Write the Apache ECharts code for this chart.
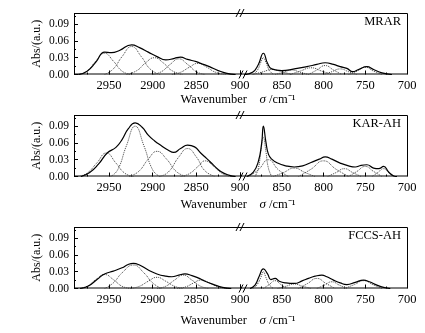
<!DOCTYPE html>
<html>
<head>
<meta charset="utf-8">
<script src="https://cdn.jsdelivr.net/npm/echarts@6/dist/echarts.min.js"></script>
<style>
html, body { margin: 0; padding: 0; background: #fff; }
#chart1 { width: 425px; height: 333px; }
</style>
</head>
<body>
<div id="chart1"></div>
<script>
// 样品名称
var sampleNames = ['MRAR', 'KAR-AH', 'FCCS-AH'];
// 刻度
var xLeftTicks = [2950, 2900, 2850];
var xRightTicks = [900, 850, 800, 750, 700];
var yTicks = [0.00, 0.03, 0.06, 0.09];

// ---- MRAR ----
var mrarLeftTotal = [[2985,0],[2975,0.006],[2965,0.022],[2955,0.040],[2947,0.039],[2938,0.043],[2924,0.053],[2915,0.048],[2905,0.040],[2895,0.032],[2885,0.026],[2875,0.029],[2868,0.031],[2860,0.027],[2850,0.023],[2845,0.020],[2835,0.014],[2825,0.007],[2815,0.002],[2805,0]];
var mrarLeftBands = [
    [[2985,0],[2975,0.006],[2965,0.024],[2955,0.038],[2945,0.024],[2935,0.006],[2925,0]],
    [[2955,0],[2945,0.010],[2935,0.032],[2924,0.050],[2913,0.032],[2903,0.010],[2892,0]],
    [[2930,0],[2918,0.007],[2908,0.021],[2898,0.030],[2888,0.021],[2878,0.007],[2866,0]],
    [[2900,0],[2890,0.005],[2880,0.018],[2870,0.028],[2860,0.018],[2850,0.005],[2840,0]],
    [[2878,0],[2868,0.004],[2858,0.013],[2848,0.020],[2838,0.013],[2828,0.004],[2815,0]]
];
var mrarRightTotal = [[895,0],[885,0.004],[878,0.018],[872,0.038],[867,0.020],[862,0.010],[850,0.007],[835,0.010],[820,0.014],[808,0.018],[798,0.021],[788,0.018],[780,0.014],[772,0.011],[765,0.005],[758,0.009],[748,0.014],[740,0.009],[730,0.003],[718,0]];
var mrarRightBands = [
    [[884,0],[879,0.008],[875,0.022],[872,0.030],[869,0.022],[865,0.008],[860,0]],
    [[885,0],[872,0.005],[862,0.009],[850,0.005],[838,0]],
    [[858,0],[848,0.004],[838,0.008],[828,0.004],[818,0]],
    [[840,0],[828,0.006],[815,0.012],[802,0.006],[790,0]],
    [[818,0],[808,0.008],[798,0.016],[788,0.008],[778,0]],
    [[800,0],[790,0.005],[780,0.010],[770,0.005],[760,0]],
    [[770,0],[760,0.006],[750,0.013],[740,0.006],[730,0]]
];

// ---- KAR-AH ----
var karLeftTotal = [[2982,0],[2972,0.007],[2962,0.022],[2952,0.042],[2942,0.052],[2935,0.066],[2928,0.085],[2920,0.096],[2912,0.088],[2905,0.074],[2898,0.064],[2890,0.055],[2882,0.047],[2876,0.043],[2868,0.050],[2860,0.056],[2852,0.053],[2845,0.042],[2838,0.032],[2830,0.020],[2822,0.009],[2812,0.002],[2805,0]];
var karLeftBands = [
    [[2985,0],[2975,0.006],[2964,0.024],[2953,0.042],[2942,0.024],[2932,0.006],[2922,0]],
    [[2948,0],[2940,0.012],[2930,0.055],[2920,0.090],[2910,0.055],[2900,0.012],[2892,0]],
    [[2927,0],[2916,0.009],[2905,0.031],[2895,0.045],[2884,0.031],[2873,0.009],[2862,0]],
    [[2892,0],[2882,0.008],[2870,0.035],[2860,0.050],[2850,0.035],[2840,0.010],[2828,0]],
    [[2868,0],[2858,0.005],[2848,0.018],[2840,0.028],[2830,0.018],[2820,0.005],[2810,0]]
];
var karRightTotal = [[892,0],[884,0.008],[878,0.027],[874,0.060],[872,0.090],[869,0.062],[866,0.040],[862,0.031],[855,0.024],[845,0.019],[835,0.017],[825,0.019],[815,0.025],[805,0.031],[798,0.035],[790,0.031],[780,0.024],[770,0.019],[762,0.017],[755,0.020],[748,0.021],[740,0.015],[734,0.014],[728,0.018],[722,0.008],[716,0.001],[712,0]];
var karRightBands = [
    [[882,0],[878,0.015],[875,0.045],[872,0.070],[869,0.045],[866,0.015],[862,0]],
    [[890,0],[878,0.012],[866,0.030],[854,0.012],[842,0]],
    [[860,0],[848,0.007],[835,0.015],[822,0.007],[810,0]],
    [[830,0],[815,0.013],[800,0.028],[785,0.013],[770,0]],
    [[795,0],[785,0.007],[775,0.014],[765,0.007],[755,0]],
    [[770,0],[760,0.009],[750,0.018],[740,0.009],[730,0]],
    [[742,0],[735,0.007],[728,0.014],[721,0.006],[714,0]]
];

// ---- FCCS-AH ----
var fccsLeftTotal = [[2983,0],[2973,0.005],[2963,0.017],[2955,0.026],[2945,0.031],[2935,0.037],[2928,0.043],[2922,0.045],[2915,0.042],[2905,0.033],[2895,0.026],[2885,0.022],[2878,0.021],[2870,0.024],[2863,0.026],[2855,0.023],[2848,0.019],[2840,0.013],[2830,0.007],[2820,0.002],[2810,0]];
var fccsLeftBands = [
    [[2985,0],[2975,0.004],[2965,0.016],[2955,0.025],[2945,0.016],[2935,0.004],[2925,0]],
    [[2955,0],[2945,0.010],[2935,0.028],[2922,0.042],[2910,0.028],[2900,0.010],[2890,0]],
    [[2925,0],[2915,0.004],[2905,0.013],[2895,0.020],[2885,0.013],[2875,0.004],[2865,0]],
    [[2895,0],[2885,0.004],[2875,0.015],[2865,0.024],[2855,0.015],[2845,0.004],[2835,0]],
    [[2872,0],[2862,0.003],[2853,0.010],[2845,0.015],[2835,0.010],[2825,0.003],[2812,0]]
];
var fccsRightTotal = [[888,0],[882,0.006],[877,0.022],[872,0.035],[867,0.026],[863,0.016],[858,0.018],[853,0.013],[845,0.010],[835,0.009],[825,0.014],[818,0.018],[810,0.022],[802,0.024],[796,0.021],[788,0.015],[780,0.010],[772,0.007],[762,0.011],[752,0.015],[745,0.012],[736,0.006],[728,0.002],[720,0]];
var fccsRightBands = [
    [[884,0],[879,0.008],[875,0.020],[872,0.030],[869,0.020],[865,0.007],[860,0]],
    [[872,0],[865,0.007],[858,0.014],[851,0.007],[844,0]],
    [[855,0],[845,0.004],[835,0.008],[825,0.004],[815,0]],
    [[830,0],[819,0.009],[808,0.018],[797,0.009],[786,0]],
    [[808,0],[799,0.006],[790,0.012],[781,0.006],[772,0]],
    [[775,0],[763,0.007],[752,0.014],[741,0.007],[730,0]]
];

var panels = [
    { left: mrarLeftTotal, leftBands: mrarLeftBands, right: mrarRightTotal, rightBands: mrarRightBands },
    { left: karLeftTotal, leftBands: karLeftBands, right: karRightTotal, rightBands: karRightBands },
    { left: fccsLeftTotal, leftBands: fccsLeftBands, right: fccsRightTotal, rightBands: fccsRightBands }
];

_initChart();

function _initChart () {
    var myChart = echarts.init(document.getElementById('chart1'));
    var font = 'Liberation Serif';
    var tops = [13, 115, 227];
    var h = 61.5;
    var nameY = [100, 205, 321];
    var grid = [], xAxis = [], yAxis = [], series = [], graphic = [];

    var tickStyle = { show: true, inside: true, length: 4, lineStyle: { color: '#000', width: 1 } };
    var minorStyle = { show: true, splitNumber: 2, length: 2, lineStyle: { color: '#000', width: 1 } };

    panels.forEach(function (p, i) {
        var gl = i * 2, gr = i * 2 + 1;
        grid.push({ left: 74, top: tops[i], width: 166, height: h });
        grid.push({ left: 240, top: tops[i], width: 167, height: h });

        xAxis.push({
            gridIndex: gl, type: 'value', inverse: true, min: 2800, max: 2990, interval: 50,
            axisLine: { show: false }, splitLine: { show: false },
            axisTick: tickStyle, minorTick: minorStyle,
            axisLabel: {
                color: '#000', fontFamily: font, fontSize: 12.5, margin: 5,
                formatter: function (v) { return xLeftTicks.indexOf(v) >= 0 ? String(v) : ''; }
            }
        });
        xAxis.push({
            gridIndex: gr, type: 'value', inverse: true, min: 700, max: 900, interval: 50,
            axisLine: { show: false }, splitLine: { show: false },
            axisTick: tickStyle, minorTick: minorStyle,
            axisLabel: {
                color: '#000', fontFamily: font, fontSize: 12.5, margin: 5,
                formatter: function (v) { return xRightTicks.indexOf(v) >= 0 ? String(v) : ''; }
            }
        });
        yAxis.push({
            gridIndex: gl, type: 'value', min: 0, max: 0.11, interval: 0.03,
            axisLine: { show: false }, splitLine: { show: false },
            axisTick: tickStyle, minorTick: minorStyle,
            name: 'Abs/(a.u.)', nameLocation: 'middle', nameGap: 31,
            nameTextStyle: { color: '#000', fontFamily: font, fontSize: 12 },
            axisLabel: {
                color: '#000', fontFamily: font, fontSize: 11.5, margin: 5,
                formatter: function (v) {
                    for (var k = 0; k < yTicks.length; k++) {
                        if (Math.abs(v - yTicks[k]) < 1e-9) return yTicks[k].toFixed(2);
                    }
                    return '';
                }
            }
        });
        yAxis.push({ gridIndex: gr, type: 'value', min: 0, max: 0.11, show: false });

        function addLine (data, g, dotted) {
            series.push({
                type: 'line', xAxisIndex: g, yAxisIndex: g, data: data,
                showSymbol: false, smooth: 0.5, silent: true,
                lineStyle: dotted ? { type: 'dotted', width: 1, color: '#444' } : { width: 1.2, color: '#000' }
            });
        }
        p.leftBands.forEach(function (b) { addLine(b, gl, true); });
        p.rightBands.forEach(function (b) { addLine(b, gr, true); });
        addLine(p.left, gl, false);
        addLine(p.right, gr, false);

        // 边框
        graphic.push({
            type: 'rect', silent: true,
            shape: { x: 74.5, y: tops[i] + 0.5, width: 333, height: h - 1 },
            style: { fill: null, stroke: '#000', lineWidth: 1 }
        });
        // 断轴符号
        var t = tops[i], b = tops[i] + h;
        [[236, t], [239, b]].forEach(function (c) {
            graphic.push({ type: 'line', silent: true, shape: { x1: c[0], y1: c[1] + 4, x2: c[0] + 4, y2: c[1] - 4 }, style: { stroke: '#000', lineWidth: 1 } });
            graphic.push({ type: 'line', silent: true, shape: { x1: c[0] + 4, y1: c[1] + 4, x2: c[0] + 8, y2: c[1] - 4 }, style: { stroke: '#000', lineWidth: 1 } });
        });
        // 样品名
        graphic.push({
            type: 'text', silent: true, x: 401, y: tops[i] + 9,
            style: { text: sampleNames[i], fill: '#000', font: '12.5px "Liberation Serif"', align: 'right', verticalAlign: 'middle' }
        });
        // x轴标题
        graphic.push({
            type: 'text', silent: true, x: 238, y: nameY[i],
            style: {
                text: 'Wavenumber    {i|σ} /cm⁻¹', fill: '#000', font: '12.5px "Liberation Serif"',
                align: 'center', verticalAlign: 'middle',
                rich: { i: { fontStyle: 'italic', fontFamily: font, fontSize: 13, fill: '#000' } }
            }
        });
    });

    var option = {
        animation: false,
        backgroundColor: '#fff',
        grid: grid,
        xAxis: xAxis,
        yAxis: yAxis,
        series: series,
        graphic: graphic
    };
    myChart.setOption(option);
    window.onresize = myChart.resize;
}
</script>
</body>
</html>
